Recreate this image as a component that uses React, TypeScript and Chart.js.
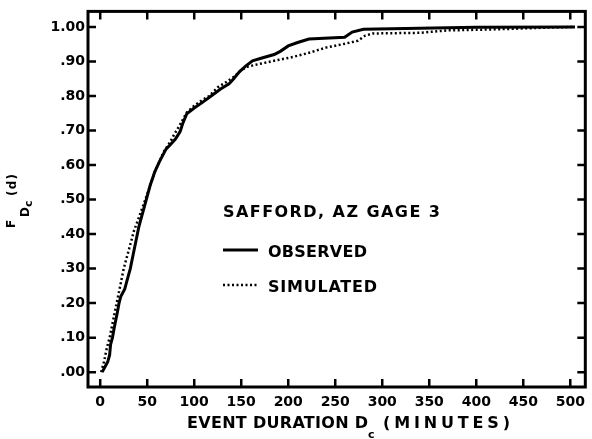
import React, { useEffect, useRef } from "react";
import { Chart, registerables } from "chart.js";

Chart.register(...registerables);

// Observed CDF (minutes, F)
const obsMinutes = [2, 5, 8, 10, 11, 13, 15, 18, 20, 22, 26, 29, 32, 35, 38, 41, 45, 49, 53, 58, 63, 70, 75, 80, 85, 88, 92, 100, 108, 118, 128, 137, 142, 148, 155, 162, 172, 185, 192, 200, 210, 222, 260, 268, 280, 340, 400, 505];
const obsF = [0.0, 0.015, 0.03, 0.05, 0.08, 0.10, 0.13, 0.17, 0.20, 0.22, 0.24, 0.27, 0.30, 0.34, 0.38, 0.42, 0.46, 0.50, 0.54, 0.58, 0.61, 0.646, 0.66, 0.675, 0.697, 0.722, 0.748, 0.765, 0.78, 0.80, 0.82, 0.835, 0.85, 0.87, 0.887, 0.902, 0.91, 0.92, 0.93, 0.945, 0.955, 0.965, 0.97, 0.985, 0.993, 0.996, 0.999, 1.0];

// Simulated CDF (minutes, F)
const simMinutes = [1, 4, 7, 10, 13, 16, 19, 22, 25, 29, 33, 36, 40, 44, 48, 53, 58, 63, 67, 74, 79, 83, 88, 92, 100, 108, 116, 125, 135, 143, 150, 157, 168, 185, 205, 222, 240, 258, 274, 282, 290, 340, 370, 420, 475, 505];
const simF = [0.0, 0.03, 0.07, 0.10, 0.14, 0.18, 0.22, 0.26, 0.30, 0.34, 0.38, 0.41, 0.44, 0.47, 0.50, 0.54, 0.58, 0.61, 0.636, 0.665, 0.69, 0.708, 0.732, 0.752, 0.772, 0.787, 0.80, 0.825, 0.842, 0.857, 0.875, 0.885, 0.892, 0.902, 0.913, 0.925, 0.94, 0.95, 0.96, 0.975, 0.981, 0.983, 0.99, 0.993, 0.998, 1.0];

const xTickValues = [0, 50, 100, 150, 200, 250, 300, 350, 400, 450, 500];
const xTickLabels = ["0", "50", "100", "150", "200", "250", "300", "350", "400", "450", "500"];
const yTickValues = [0, 0.1, 0.2, 0.3, 0.4, 0.5, 0.6, 0.7, 0.8, 0.9, 1.0];
const yTickLabels = [".00", ".10", ".20", ".30", ".40", ".50", ".60", ".70", ".80", ".90", "1.00"];

const legendTitle = "SAFFORD, AZ GAGE 3";
const seriesNames = ["OBSERVED", "SIMULATED"];
const xTitleMain = "EVENT DURATION D";
const xTitleSub = "c";
const xTitleUnits = "(MINUTES)";
const yTitleMain = "F";
const yTitleSub1 = "D";
const yTitleSub2 = "c";
const yTitleArg = "(d)";

const FONT = "'DejaVu Sans', sans-serif";

function fitText(ctx: CanvasRenderingContext2D, text: string, x: number, y: number, width: number) {
  (ctx as any).letterSpacing = "0px";
  const base = ctx.measureText(text).width;
  const n = text.length;
  const sp = n > 1 ? (width - base) / (n - 1) : 0;
  (ctx as any).letterSpacing = sp.toFixed(2) + "px";
  ctx.fillText(text, x, y);
  (ctx as any).letterSpacing = "0px";
}

const decorPlugin = {
  id: "decor",
  afterDraw(chart: any) {
    const ctx: CanvasRenderingContext2D = chart.ctx;
    const { left, right, top, bottom } = chart.chartArea;
    const xs = chart.scales.x;
    const ys = chart.scales.y;
    ctx.save();
    ctx.strokeStyle = "#000";
    ctx.fillStyle = "#000";
    // frame
    ctx.lineWidth = 3;
    ctx.strokeRect(left, top, right - left, bottom - top);
    // inward ticks
    ctx.lineWidth = 2.5;
    const tl = 8;
    ctx.beginPath();
    xTickValues.forEach((v) => {
      const p = xs.getPixelForValue(v);
      ctx.moveTo(p, bottom);
      ctx.lineTo(p, bottom - tl);
      ctx.moveTo(p, top);
      ctx.lineTo(p, top + tl);
    });
    yTickValues.forEach((v) => {
      const p = ys.getPixelForValue(v);
      ctx.moveTo(left, p);
      ctx.lineTo(left + tl, p);
      ctx.moveTo(right, p);
      ctx.lineTo(right - tl, p);
    });
    ctx.stroke();

    // legend block
    ctx.textAlign = "left";
    ctx.textBaseline = "alphabetic";
    ctx.font = `bold 16px ${FONT}`;
    fitText(ctx, legendTitle, 223, 217, 217);
    fitText(ctx, seriesNames[0], 268, 257, 99);
    fitText(ctx, seriesNames[1], 268, 292, 109);
    ctx.lineWidth = 3;
    ctx.beginPath();
    ctx.moveTo(223, 250);
    ctx.lineTo(258, 250);
    ctx.stroke();
    ctx.lineWidth = 2.5;
    ctx.setLineDash([2, 2.5]);
    ctx.beginPath();
    ctx.moveTo(223, 285);
    ctx.lineTo(257, 285);
    ctx.stroke();
    ctx.setLineDash([]);

    // x title
    ctx.font = `bold 16px ${FONT}`;
    fitText(ctx, xTitleMain, 187, 428, 181);
    fitText(ctx, xTitleUnits, 383, 428, 127);
    ctx.font = `bold 11px ${FONT}`;
    ctx.fillText(xTitleSub, 368, 438);

    // y title (rotated)
    ctx.translate(15, 228);
    ctx.rotate(-Math.PI / 2);
    ctx.font = `bold 12px ${FONT}`;
    ctx.fillText(yTitleMain, 0, 0);
    ctx.font = `bold 12px ${FONT}`;
    ctx.fillText(yTitleSub1, 11, 14);
    ctx.font = `bold 11px ${FONT}`;
    ctx.fillText(yTitleSub2, 21, 17);
    ctx.font = `bold 12px ${FONT}`;
    fitText(ctx, yTitleArg, 32, 1, 22);
    ctx.restore();
  },
};

export default function App() {
  const ref = useRef<HTMLCanvasElement | null>(null);
  useEffect(() => {
    document.body.style.margin = "0";
    const canvas = ref.current!;
    const chart = new Chart(canvas, {
      type: "line",
      data: {
        datasets: [
          {
            label: seriesNames[1],
            data: simMinutes.map((m, i) => ({ x: m, y: simF[i] })),
            borderColor: "#000",
            borderWidth: 2.5,
            borderDash: [2, 2.5],
            pointRadius: 0,
            tension: 0,
            fill: false,
          },
          {
            label: seriesNames[0],
            data: obsMinutes.map((m, i) => ({ x: m, y: obsF[i] })),
            borderColor: "#000",
            borderWidth: 3,
            pointRadius: 0,
            tension: 0,
            fill: false,
          },
        ],
      },
      plugins: [decorPlugin],
      options: {
        responsive: false,
        animation: false,
        events: [],
        layout: { padding: { top: 7, right: 4, left: 0, bottom: 0 } },
        plugins: { legend: { display: false }, tooltip: { enabled: false } },
        scales: {
          x: {
            type: "linear",
            min: -13,
            max: 516,
            grid: { display: false, drawTicks: false },
            border: { display: false },
            afterBuildTicks: (s: any) => {
              s.ticks = xTickValues.map((v) => ({ value: v }));
            },
            afterFit: (s: any) => {
              s.height = 52;
            },
            ticks: {
              color: "#000",
              padding: 7,
              maxRotation: 0,
              autoSkip: false,
              font: { family: FONT, weight: "bold", size: 14 },
              callback: (v: any) => {
                const i = xTickValues.indexOf(Number(v));
                return i >= 0 ? xTickLabels[i] : "";
              },
            },
          },
          y: {
            type: "linear",
            min: -0.043,
            max: 1.045,
            grid: { display: false, drawTicks: false },
            border: { display: false },
            afterBuildTicks: (s: any) => {
              s.ticks = yTickValues.map((v) => ({ value: v }));
            },
            afterFit: (s: any) => {
              s.width = 88;
            },
            ticks: {
              color: "#000",
              padding: 3,
              autoSkip: false,
              font: { family: FONT, weight: "bold", size: 14 },
              callback: (v: any) => {
                const i = yTickValues.findIndex((t) => Math.abs(t - Number(v)) < 1e-9);
                return i >= 0 ? yTickLabels[i] : "";
              },
            },
          },
        },
      },
    });
    return () => chart.destroy();
  }, []);
  return (
    <div style={{ position: "absolute", left: 0, top: 0, width: 592, height: 439, background: "#fff" }}>
      <canvas ref={ref} width={592} height={439} />
    </div>
  );
}
